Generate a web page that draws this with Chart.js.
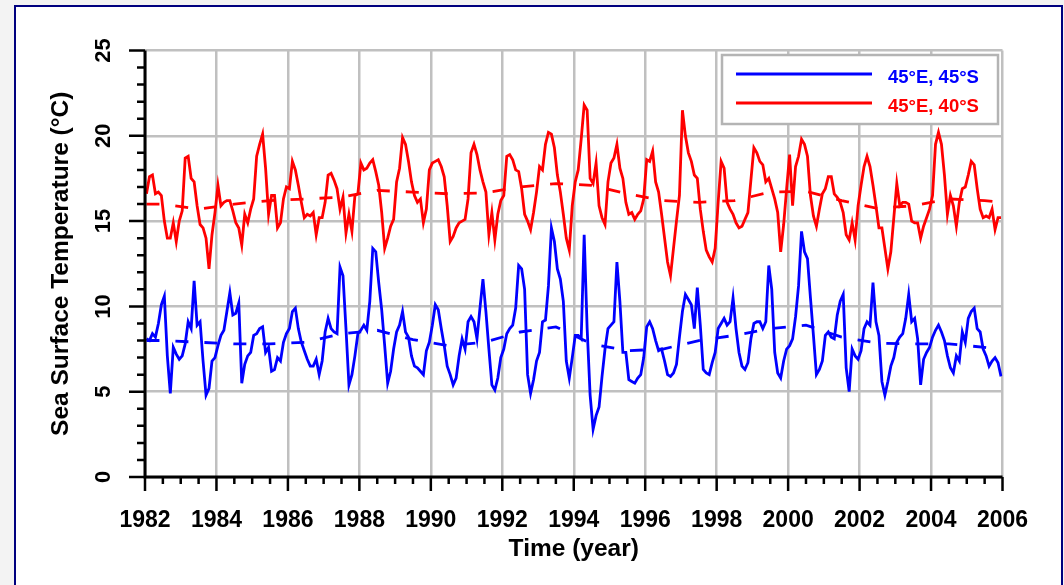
<!DOCTYPE html>
<html lang="en">
<head>
  <meta charset="UTF-8">
  <title>Sea Surface Temperature 1982-2006</title>
  <script src="https://cdn.jsdelivr.net/npm/chart.js"></script>
  <style>
    html, body { margin: 0; padding: 0; background: #f3f3f3; }
  </style>
</head>
<body>
  <canvas id="sstChart" width="1064" height="585"></canvas>

  <script>
    // monthly SST, one row per year (Jan..Dec), 1982-2005
    const blueSST = [
      8.1, 8.0, 8.4, 8.2, 9.0, 10.1, 10.6, 7.1, 4.9, 7.6, 7.2, 6.9,     // 1982
      7.1, 7.8, 9.1, 8.7, 11.5, 8.9, 9.1, 6.8, 4.8, 5.2, 6.8, 7.0,      // 1983
      7.7, 8.3, 8.6, 9.7, 10.8, 9.5, 9.6, 10.2, 5.5, 6.6, 7.1, 7.3,     // 1984
      8.3, 8.4, 8.7, 8.8, 7.3, 7.6, 6.2, 6.3, 7.0, 6.8, 7.9, 8.4,       // 1985
      8.7, 9.7, 9.9, 8.7, 7.9, 7.4, 6.9, 6.5, 6.5, 6.9, 6.0, 6.8,       // 1986
      8.5, 9.3, 8.7, 8.5, 8.4, 12.3, 11.8, 8.7, 5.4, 6.0, 7.1, 8.4,     // 1987
      8.6, 8.9, 8.6, 10.3, 13.4, 13.2, 11.4, 9.8, 7.7, 5.5, 6.2, 7.5,   // 1988
      8.5, 8.9, 9.7, 8.5, 8.2, 7.1, 6.5, 6.4, 6.2, 6.0, 7.4, 7.9,       // 1989
      8.9, 10.1, 9.8, 8.7, 7.7, 6.5, 6.0, 5.4, 5.8, 7.1, 8.1, 7.5,      // 1990
      9.1, 9.4, 9.1, 8.1, 9.9, 11.6, 9.7, 7.5, 5.4, 5.1, 5.8, 7.0,      // 1991
      7.5, 8.4, 8.7, 8.9, 9.9, 12.4, 12.2, 11.0, 6.0, 4.9, 5.7, 6.8,    // 1992
      7.3, 9.1, 9.2, 11.2, 14.6, 13.8, 12.2, 11.6, 10.3, 6.8, 5.8, 7.0, // 1993
      8.3, 8.3, 8.1, 14.2, 8.7, 4.8, 2.8, 3.6, 4.1, 5.9, 7.5, 8.7,      // 1994
      8.9, 9.1, 12.6, 10.3, 7.3, 7.3, 5.7, 5.6, 5.5, 5.8, 6.0, 7.0,     // 1995
      8.8, 9.1, 8.7, 8.0, 7.4, 7.5, 6.8, 6.0, 5.9, 6.1, 6.6, 8.2,       // 1996
      9.7, 10.7, 10.4, 10.1, 8.7, 11.1, 8.9, 6.3, 6.1, 6.0, 6.7, 7.3,   // 1997
      8.7, 9.0, 9.3, 8.9, 9.1, 10.5, 8.7, 7.3, 6.5, 6.3, 6.7, 8.1,      // 1998
      9.0, 9.1, 9.1, 8.7, 9.1, 12.4, 11.0, 7.3, 6.1, 5.8, 6.8, 7.5,     // 1999
      7.7, 8.1, 9.4, 11.2, 14.4, 13.2, 12.8, 10.5, 8.3, 6.0, 6.3, 6.8,  // 2000
      8.3, 8.5, 8.2, 8.1, 9.5, 10.3, 10.7, 6.4, 5.0, 7.5, 7.1, 6.9,     // 2001
      7.4, 8.7, 9.1, 8.9, 11.4, 9.1, 8.3, 5.6, 4.8, 5.6, 6.5, 7.0,      // 2002
      7.9, 8.2, 8.4, 9.3, 10.7, 9.1, 9.3, 8.1, 5.4, 6.9, 7.3, 7.6,      // 2003
      8.2, 8.6, 8.9, 8.5, 8.0, 7.1, 6.4, 6.1, 7.1, 6.8, 8.5, 7.9,       // 2004
      9.3, 9.7, 9.9, 8.7, 8.5, 7.5, 7.1, 6.5, 6.8, 7.0, 6.7, 5.9        // 2005
    ];

    const redSST = [
      16.6, 17.6, 17.7, 16.6, 16.7, 16.5, 15.0, 14.0, 14.0, 14.9, 13.8, 15.0, // 1982
      15.6, 18.7, 18.8, 17.5, 17.3, 15.9, 14.8, 14.6, 14.0, 12.2, 14.2, 15.5, // 1983
      17.1, 15.9, 16.1, 16.2, 16.2, 15.6, 14.9, 14.6, 13.6, 15.4, 14.9, 15.7, // 1984
      16.3, 18.8, 19.5, 20.1, 18.1, 15.4, 16.5, 16.5, 14.6, 14.9, 16.3, 17.0, // 1985
      16.9, 18.5, 18.0, 17.1, 16.1, 15.2, 15.4, 15.3, 15.5, 14.2, 15.2, 15.2, // 1986
      16.1, 17.7, 17.8, 17.4, 16.9, 15.7, 16.4, 14.3, 15.4, 14.4, 16.5, 16.6, // 1987
      18.4, 18.0, 18.1, 18.4, 18.6, 17.9, 17.1, 15.5, 13.4, 14.0, 14.7, 15.1, // 1988
      17.3, 18.1, 19.9, 19.5, 18.5, 17.3, 16.5, 16.1, 16.3, 14.9, 15.7, 18.0, // 1989
      18.4, 18.5, 18.6, 18.2, 17.6, 15.9, 13.8, 14.1, 14.6, 14.9, 15.0, 15.1, // 1990
      16.3, 19.0, 19.5, 18.9, 18.0, 17.3, 16.7, 14.2, 15.5, 13.9, 15.4, 16.2, // 1991
      16.5, 18.8, 18.9, 18.6, 18.0, 17.9, 16.9, 15.4, 15.0, 14.5, 15.5, 16.7, // 1992
      18.2, 18.0, 19.5, 20.2, 20.1, 19.3, 17.7, 16.7, 15.4, 14.0, 13.3, 15.9, // 1993
      17.3, 18.0, 19.8, 21.8, 21.5, 17.5, 17.2, 18.4, 15.9, 15.2, 14.8, 17.3, // 1994
      18.4, 18.7, 19.5, 18.1, 17.5, 16.1, 15.4, 15.5, 15.1, 15.4, 15.6, 16.3, // 1995
      18.6, 18.5, 19.1, 17.3, 16.7, 15.4, 14.0, 12.6, 11.8, 13.4, 15.0, 16.5, // 1996
      21.5, 20.0, 19.0, 18.5, 17.7, 17.5, 15.7, 14.4, 13.3, 12.9, 12.6, 13.4, // 1997
      16.1, 18.5, 18.1, 16.1, 15.7, 15.4, 14.9, 14.6, 14.7, 15.1, 15.5, 17.4, // 1998
      19.3, 19.0, 18.5, 18.3, 17.3, 17.5, 16.9, 16.3, 15.5, 13.2, 14.8, 16.9, // 1999
      18.9, 15.9, 18.2, 18.8, 19.8, 19.5, 18.8, 16.5, 15.3, 14.7, 15.7, 16.6, // 2000
      16.9, 17.6, 17.6, 16.6, 16.4, 16.1, 15.5, 14.2, 13.9, 14.9, 13.9, 15.9, // 2001
      17.1, 18.2, 18.8, 18.2, 17.1, 15.9, 14.6, 14.6, 13.4, 12.2, 13.2, 15.2, // 2002
      17.2, 15.9, 16.1, 16.1, 16.0, 15.0, 14.9, 14.9, 14.0, 14.7, 15.2, 15.7, // 2003
      16.5, 19.5, 20.2, 19.5, 17.7, 15.4, 16.5, 15.9, 14.7, 16.1, 16.9, 17.0, // 2004
      17.7, 18.5, 18.3, 16.9, 15.7, 15.2, 15.3, 15.2, 15.7, 14.5, 15.2, 15.2  // 2005
    ];

    // dashed mean lines: start, mid-year 1982..2005, end
    const blueMean = [8.0, 8.0, 7.9, 7.8, 7.8, 7.9, 8.4, 8.6, 8.05, 7.7, 7.9, 8.5, 8.8,
                      7.8, 7.4, 7.5, 8.0, 8.3, 8.7, 8.9, 8.2, 7.85, 7.8, 7.8, 7.6, 7.45];
    const redMean = [16.0, 16.0, 15.7, 16.0, 16.2, 16.3, 16.4, 16.8, 16.7, 16.6, 16.65, 17.0, 17.2,
                     17.1, 16.6, 16.2, 16.1, 16.2, 16.7, 16.75, 16.2, 15.75, 15.9, 16.3, 16.2, 16.1];

    const yTickLabels = ['0', '5', '10', '15', '20', '25'];
    const xTickLabels = ['1982', '1984', '1986', '1988', '1990', '1992', '1994',
                         '1996', '1998', '2000', '2002', '2004', '2006'];

    const BLUE = '#0000ff';
    const RED = '#ff0000';
    const FONT = "'Liberation Sans', Arial, sans-serif";

    // month i sits in the middle of its month
    function monthly(values) {
      return values.map((v, i) => ({ x: 1982 + (i + 0.5) / 12, y: v }));
    }
    const meanYears = [1982.04];
    for (let y = 1982; y <= 2005; y++) meanYears.push(y + 0.5);
    meanYears.push(2005.96);
    function means(values) {
      return values.map((v, i) => ({ x: meanYears[i], y: v }));
    }

    // outer navy frame on a light grey page
    const framePlugin = {
      id: 'frame',
      beforeDraw(chart) {
        const ctx = chart.ctx;
        ctx.save();
        ctx.fillStyle = '#f3f3f3';
        ctx.fillRect(0, 0, chart.width, chart.height);
        ctx.fillStyle = '#ffffff';
        ctx.fillRect(15, 6, 1047, 600);
        ctx.strokeStyle = '#00007f';
        ctx.lineWidth = 2;
        ctx.strokeRect(15, 6, 1047, 600);
        ctx.restore();
      }
    };

    // black axes with major/minor ticks, labels, titles and the boxed legend
    const axesPlugin = {
      id: 'axes',
      afterDraw(chart) {
        const ctx = chart.ctx;
        const xs = chart.scales.x, ys = chart.scales.y;
        const a = chart.chartArea;
        ctx.save();
        ctx.strokeStyle = '#000';
        ctx.fillStyle = '#000';

        // ticks
        ctx.lineWidth = 2.5;
        ctx.beginPath();
        for (let v = 0; v <= 25; v++) {
          const py = ys.getPixelForValue(v);
          ctx.moveTo(a.left, py);
          ctx.lineTo(a.left - (v % 5 === 0 ? 16 : 8), py);
        }
        for (let t = 1982; t <= 2006; t += 0.5) {
          const px = xs.getPixelForValue(t);
          ctx.moveTo(px, a.bottom);
          ctx.lineTo(px, a.bottom + ((t - 1982) % 2 === 0 ? 14 : 7));
        }
        ctx.stroke();

        // axis lines
        ctx.lineWidth = 3;
        ctx.beginPath();
        ctx.moveTo(a.left, a.top);
        ctx.lineTo(a.left, a.bottom);
        ctx.lineTo(a.right, a.bottom);
        ctx.stroke();

        // tick labels
        ctx.font = 'bold 22px ' + FONT;
        ctx.textAlign = 'center';
        ctx.textBaseline = 'middle';
        yTickLabels.forEach(lbl => {
          const py = ys.getPixelForValue(Number(lbl));
          ctx.save();
          ctx.translate(104, py);
          ctx.rotate(-Math.PI / 2);
          ctx.fillText(lbl, 0, 0);
          ctx.restore();
        });
        ctx.font = 'bold 23px ' + FONT;
        xTickLabels.forEach(lbl => {
          ctx.fillText(lbl, xs.getPixelForValue(Number(lbl)), 521);
        });

        // axis titles
        ctx.font = 'bold 24.5px ' + FONT;
        ctx.fillText('Time (year)', (a.left + a.right) / 2, 549);
        ctx.save();
        ctx.translate(61, (a.top + a.bottom) / 2);
        ctx.rotate(-Math.PI / 2);
        ctx.fillText('Sea Surface Temperature (\u00B0C)', 0, 0);
        ctx.restore();

        // legend box
        ctx.fillStyle = '#fff';
        ctx.fillRect(722, 55, 276, 69);
        ctx.strokeStyle = '#b4b4b4';
        ctx.lineWidth = 2.5;
        ctx.strokeRect(722, 55, 276, 69);
        const items = chart.data.datasets.filter(d => d.inLegend);
        items.forEach((d, i) => {
          const ly = 74 + i * 29;
          ctx.strokeStyle = d.borderColor;
          ctx.lineWidth = 3;
          ctx.beginPath();
          ctx.moveTo(736, ly);
          ctx.lineTo(872, ly);
          ctx.stroke();
          ctx.fillStyle = d.borderColor;
          ctx.font = 'bold 18.5px ' + FONT;
          ctx.textAlign = 'left';
          ctx.fillText(d.label, 888, ly + 4);
        });
        ctx.restore();
      }
    };

    const ctx = document.getElementById('sstChart').getContext('2d');
    new Chart(ctx, {
      type: 'line',
      data: {
        datasets: [
          { label: '45\u00B0E, 45\u00B0S', inLegend: true, data: monthly(blueSST),
            borderColor: BLUE, borderWidth: 2.8 },
          { label: '45\u00B0E, 40\u00B0S', inLegend: true, data: monthly(redSST),
            borderColor: RED, borderWidth: 2.8 },
          { label: 'mean 45S', data: means(blueMean), borderColor: BLUE,
            borderWidth: 2.8, borderDash: [13, 16] },
          { label: 'mean 40S', data: means(redMean), borderColor: RED,
            borderWidth: 2.8, borderDash: [13, 16] }
        ]
      },
      options: {
        responsive: false,
        animation: false,
        devicePixelRatio: 1,
        elements: { point: { radius: 0 }, line: { tension: 0, fill: false } },
        layout: { padding: { left: 145, right: 61.5, top: 50.5, bottom: 108 } },
        plugins: { legend: { display: false }, tooltip: { enabled: false } },
        scales: {
          x: {
            type: 'linear', min: 1982, max: 2006,
            ticks: { display: false, stepSize: 2 },
            grid: { color: '#c0c0c0', lineWidth: 2.5, drawTicks: false },
            border: { display: false },
            afterFit(s) { s.height = 0; }
          },
          y: {
            min: 0, max: 25,
            ticks: { display: false, stepSize: 5 },
            grid: { color: '#c0c0c0', lineWidth: 2.5, drawTicks: false },
            border: { display: false },
            afterFit(s) { s.width = 0; }
          }
        }
      },
      plugins: [framePlugin, axesPlugin]
    });
  </script>
</body>
</html>
